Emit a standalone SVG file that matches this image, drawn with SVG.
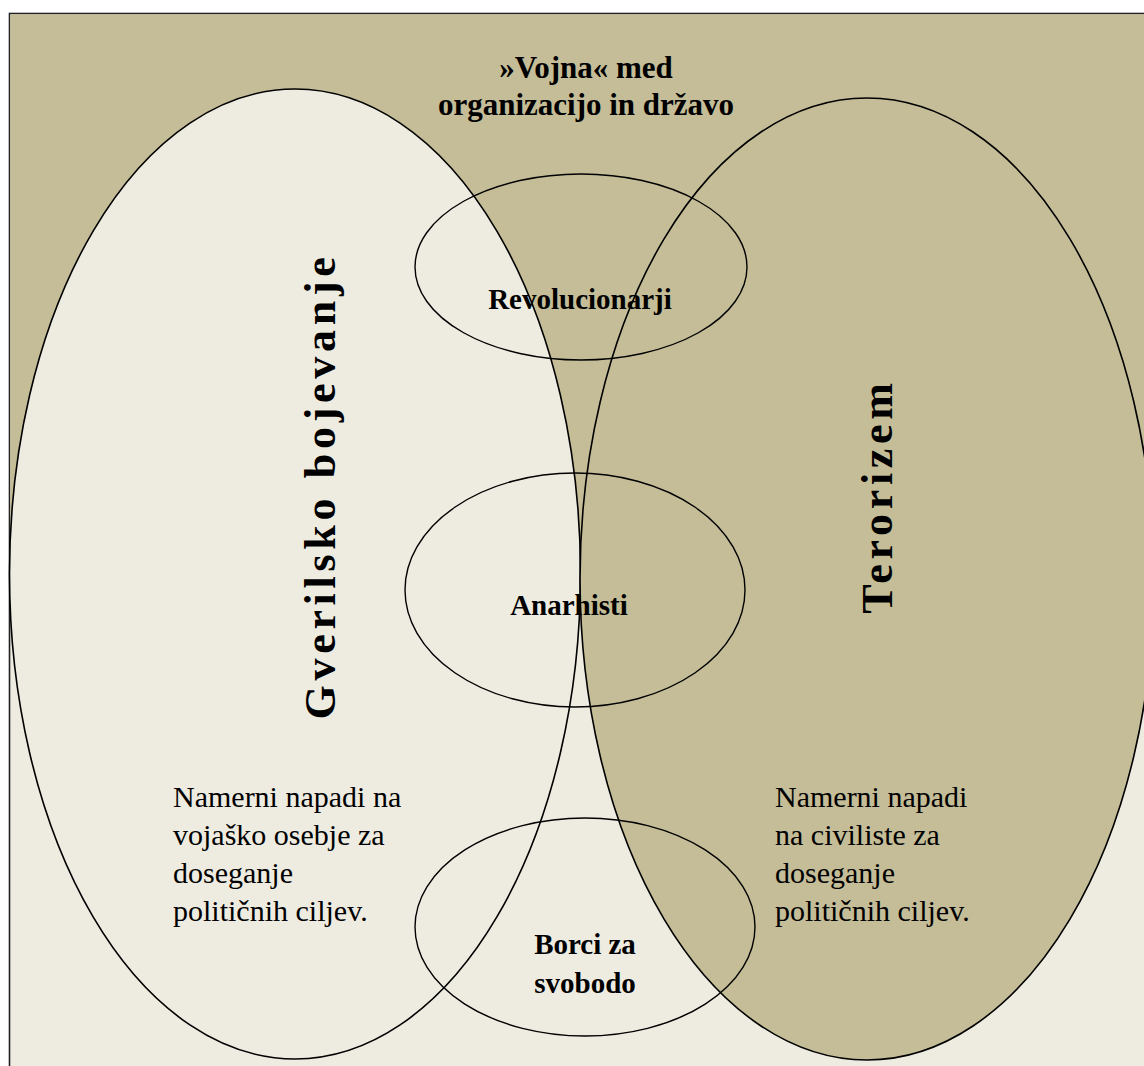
<svg xmlns="http://www.w3.org/2000/svg" width="1144" height="1066" viewBox="0 0 1144 1066">
  <style>
    .big { stroke: #000; stroke-width: 1.6; }
    .small { fill: none; stroke: #000; stroke-width: 1.4; }
    .bold { font-family: "Liberation Serif", "Times New Roman", serif; font-weight: bold; fill: #000; }
    .body { font-family: "Liberation Serif", "Times New Roman", serif; font-size: 30px; fill: #000; }
    .lbl { font-size: 29px; text-anchor: middle; }
    .vert { font-size: 44px; text-anchor: middle; letter-spacing: 4.7px; }
  </style>
  <rect x="0" y="0" width="1144" height="1066" fill="#ffffff"/>
  <g id="frame">
    <rect x="9.5" y="13.5" width="1200" height="1100" fill="#eeece1" stroke="#222" stroke-width="1.6"/>
    <rect x="10.3" y="14.3" width="1200" height="561" fill="#c4bd97"/>
  </g>
  <g id="gverilsko">
    <ellipse class="big" cx="295" cy="574" rx="285.5" ry="485" fill="#eeece1"/>
    <text class="bold vert" transform="translate(335,486) rotate(-90)">Gverilsko bojevanje</text>
    <text class="body"><tspan x="173" y="807">Namerni napadi na</tspan><tspan x="173" y="845">vojaško osebje za</tspan><tspan x="173" y="883">doseganje</tspan><tspan x="173" y="921">političnih ciljev.</tspan></text>
  </g>
  <g id="terorizem">
    <ellipse class="big" cx="867" cy="579" rx="287" ry="481" fill="#c4bd97"/>
    <text class="bold vert" transform="translate(892,496) rotate(-90)">Terorizem</text>
    <text class="body"><tspan x="775" y="807">Namerni napadi</tspan><tspan x="775" y="845">na civiliste za</tspan><tspan x="775" y="883">doseganje</tspan><tspan x="775" y="921">političnih ciljev.</tspan></text>
  </g>
  <g id="title">
    <text class="bold" font-size="31" text-anchor="middle"><tspan x="586" y="78">»Vojna« med</tspan><tspan x="586" y="115">organizacijo in državo</tspan></text>
  </g>
  <g id="revolucionarji">
    <ellipse class="small" cx="581" cy="267" rx="166" ry="93"/>
    <text class="bold lbl" x="580" y="309">Revolucionarji</text>
  </g>
  <g id="anarhisti">
    <ellipse class="small" cx="575" cy="590" rx="170" ry="117"/>
    <text class="bold lbl" x="569" y="615">Anarhisti</text>
  </g>
  <g id="borci">
    <ellipse class="small" cx="585" cy="927" rx="170" ry="109"/>
    <text class="bold lbl"><tspan x="585" y="954">Borci za</tspan><tspan x="585" y="993">svobodo</tspan></text>
  </g>
</svg>
